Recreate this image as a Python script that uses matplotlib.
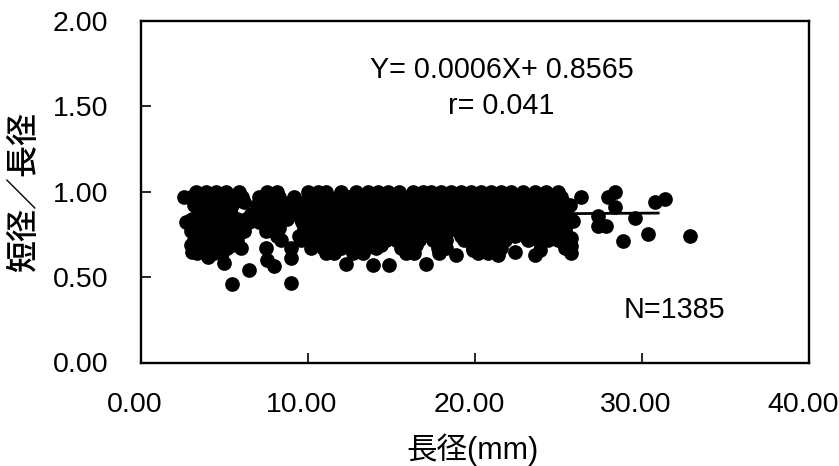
import numpy as np
import matplotlib
matplotlib.use('Agg')
import matplotlib.pyplot as plt
from matplotlib.transforms import ScaledTranslation

plt.rcParams['font.family'] = ['Liberation Sans', 'Noto Sans CJK JP', 'DejaVu Sans']

# 帯の部分 (短径/長径ごとに読み取った長径)
row_100 = [3.3, 3.9, 4.5, 5.1, 5.9, 7.6, 8.2, 10.0, 10.6, 11.1, 12.0, 12.9, 13.6, 14.2, 14.8, 15.5, 16.3, 16.9, 17.4, 18.0, 18.6, 19.2, 19.8, 20.4, 21.0, 21.6, 22.2, 22.9, 23.6, 24.3, 25.0]
row_097 = [2.6, 3.0, 3.6, 4.2, 4.8, 5.4, 6.1, 7.1, 7.8, 8.3, 9.2, 10.5, 11.2, 11.9, 12.5, 13.2, 13.8, 14.4, 15.1, 15.8, 16.4, 17.0, 17.6, 18.3, 18.9, 19.5, 20.1, 20.7, 21.3, 22.0, 22.5, 23.1, 23.8, 24.5, 25.2]
row_094 = [3.4, 4.1, 4.7, 5.3, 6.2, 7.3, 7.9, 8.5, 9.1, 9.8, 10.4, 11.1, 11.7, 12.3, 13.0, 13.6, 14.3, 14.9, 15.6, 16.2, 16.8, 17.5, 18.1, 18.7, 19.4, 20.0, 20.6, 21.2, 21.9, 22.5, 23.2, 23.9, 24.6, 25.3]
row_092 = [3.2, 3.8, 4.4, 5.0, 5.5, 7.0, 7.5, 8.1, 8.6, 9.5, 10.1, 10.8, 11.4, 12.1, 12.8, 13.5, 14.1, 14.7, 15.3, 16.0, 16.6, 17.3, 17.9, 18.5, 19.2, 19.9, 20.5, 21.2, 21.8, 22.4, 23.0, 23.7, 24.4, 25.1, 25.7]
row_089 = [3.6, 4.3, 5.0, 8.0, 8.7, 9.2, 9.9, 10.5, 11.2, 11.8, 12.4, 13.1, 13.7, 14.4, 15.0, 15.7, 16.3, 17.0, 17.6, 18.2, 18.9, 19.6, 20.2, 20.8, 21.5, 22.1, 22.7, 23.4, 24.0, 24.7, 25.4]
row_087 = [3.5, 4.2, 4.9, 5.4, 6.6, 7.2, 8.0, 8.5, 9.4, 10.0, 10.6, 11.3, 11.9, 12.6, 13.3, 13.9, 14.6, 15.2, 15.9, 16.5, 17.2, 17.8, 18.4, 19.0, 19.7, 20.4, 21.0, 21.7, 22.3, 23.0, 23.6, 24.2, 24.9, 25.5]
row_084 = [3.1, 3.8, 4.5, 5.1, 5.8, 6.3, 7.0, 7.6, 8.2, 8.8, 9.6, 10.2, 10.9, 11.5, 12.2, 12.9, 13.5, 14.2, 14.8, 15.5, 16.1, 16.8, 17.4, 18.0, 18.7, 19.3, 20.0, 20.6, 21.3, 21.9, 22.6, 23.2, 23.9, 24.5, 25.2]
row_082 = [2.7, 3.4, 4.0, 4.7, 5.3, 5.9, 6.5, 7.1, 7.7, 8.3, 9.7, 10.3, 11.0, 11.6, 12.3, 13.0, 13.6, 14.3, 14.9, 15.6, 16.2, 16.9, 17.5, 18.1, 18.8, 19.4, 20.1, 20.7, 21.4, 22.0, 22.7, 23.3, 24.0, 24.6, 25.3]
row_079 = [3.3, 4.0, 4.6, 5.3, 5.9, 7.8, 8.3, 9.8, 10.4, 11.1, 11.7, 12.4, 13.0, 13.7, 14.3, 15.0, 15.6, 16.3, 16.9, 17.6, 18.2, 18.9, 19.5, 20.2, 20.8, 21.5, 22.1, 22.8, 23.4, 24.1, 24.7, 25.4]
row_077 = [3.0, 3.7, 4.3, 5.0, 5.6, 6.2, 7.5, 8.0, 9.9, 10.5, 11.2, 11.8, 12.5, 13.1, 13.8, 14.5, 15.1, 15.8, 16.4, 17.1, 17.7, 18.4, 19.1, 19.7, 20.3, 20.9, 21.5, 22.2, 22.8, 23.5, 24.1, 24.8, 25.4]
row_074 = [3.5, 4.2, 4.9, 5.5, 8.2, 9.5, 10.2, 10.9, 11.5, 12.2, 12.8, 13.5, 14.1, 14.8, 15.4, 16.1, 16.8, 17.4, 18.1, 19.2, 19.8, 20.5, 21.0, 21.7, 22.4, 23.0, 23.7, 24.3, 25.0, 25.5]
row_072 = [3.2, 3.9, 4.6, 5.2, 5.8, 8.4, 9.6, 10.1, 10.8, 11.4, 12.1, 12.7, 13.4, 14.0, 14.7, 15.3, 16.0, 16.7, 17.5, 18.3, 19.4, 20.0, 20.7, 21.2, 21.8, 23.2, 23.8, 24.4, 25.0, 25.6]
row_069 = [3.0, 3.6, 4.3, 4.9, 5.5, 10.4, 11.0, 11.7, 12.4, 13.0, 13.8, 14.4, 15.9, 16.5, 18.0, 20.3, 20.9, 21.4, 25.5]
row_067 = [3.3, 3.9, 4.5, 5.2, 6.0, 9.0, 10.2, 10.9, 11.6, 12.0, 12.8, 13.5, 14.1, 15.6, 16.3, 17.8, 18.3, 19.9, 20.6, 21.1, 21.6, 25.4]
row_064 = [3.4, 4.4, 4.9, 11.1, 11.6, 12.7, 13.3, 15.9, 17.9, 20.2, 20.8]

# 帯から離れた点
outlier_x = [5.5, 9.0, 6.5, 8.0, 7.6, 7.5, 5.0, 4.05, 3.1, 9.0, 12.3, 13.9, 14.9, 16.4, 17.1, 18.9, 19.9, 21.4, 22.4, 23.6, 23.9, 25.8, 25.8, 25.8, 25.9, 26.4, 27.4, 27.4, 27.9, 28.4, 28.0, 28.4, 28.9, 29.6, 30.4, 30.8, 31.4, 32.9]
outlier_y = [0.457, 0.463, 0.54, 0.563, 0.598, 0.67, 0.58, 0.616, 0.645, 0.61, 0.575, 0.57, 0.57, 0.64, 0.575, 0.63, 0.657, 0.63, 0.645, 0.63, 0.66, 0.64, 0.68, 0.73, 0.83, 0.97, 0.86, 0.80, 0.80, 1.0, 0.97, 0.91, 0.71, 0.845, 0.75, 0.94, 0.96, 0.74]

rows = {1.00: row_100, 0.97: row_097, 0.94: row_094, 0.92: row_092, 0.89: row_089,
        0.87: row_087, 0.84: row_084, 0.82: row_082, 0.79: row_079, 0.77: row_077,
        0.74: row_074, 0.72: row_072, 0.69: row_069, 0.67: row_067, 0.64: row_064}

# 回帰直線
slope = 0.0006
intercept = 0.8565
fit_x = np.array([2.8, 31.0])

fig = plt.figure(figsize=(8.39, 4.66), dpi=100)
ax = fig.add_axes([140.5 / 839, 1 - 362.5 / 466, 668 / 839, 341.5 / 466])

for y_val, xs in rows.items():
    ax.scatter(xs, [y_val] * len(xs), s=112, c='black', linewidths=0)
ax.scatter(outlier_x, outlier_y, s=112, c='black', linewidths=0)
ax.plot(fit_x, slope * fit_x + intercept, color='black', lw=2)

ax.set_xlim(0, 40)
ax.set_ylim(0, 2)
ax.set_xticks([0, 10, 20, 30, 40])
ax.set_yticks([0, 0.5, 1.0, 1.5, 2.0])
ax.set_xticklabels(['0.00', '10.00', '20.00', '30.00', '40.00'])
ax.set_yticklabels(['0.00', '0.50', '1.00', '1.50', '2.00'])
ax.tick_params(direction='in', length=7, width=1.2, labelsize=20.5, color='black')
ax.tick_params(axis='x', pad=21)
ax.tick_params(axis='y', pad=23)
for s in ax.spines.values():
    s.set_linewidth(1.7)

# 目盛りラベルは元図で少し左に寄っている
shift = ScaledTranslation(-4 / 72, 0, fig.dpi_scale_trans)
for lab in ax.get_xticklabels():
    lab.set_transform(lab.get_transform() + shift)

fig.text(473 / 839, 1 - 450 / 466, '長径(mm)', fontsize=22, ha='center', va='center')
fig.text(25 / 839, 1 - 192 / 466, '短径／長径', fontsize=23, rotation=90, ha='center', va='center', fontweight='medium')

ax.text(0.541, 0.857, 'Y= 0.0006X+ 0.8565', transform=ax.transAxes, fontsize=20.7, ha='center', va='center')
ax.text(0.54, 0.75, 'r= 0.041', transform=ax.transAxes, fontsize=20.7, ha='center', va='center')
ax.text(0.8, 0.153, 'N=1385', transform=ax.transAxes, fontsize=20.7, ha='center', va='center')

plt.savefig('out.png', dpi=100)
